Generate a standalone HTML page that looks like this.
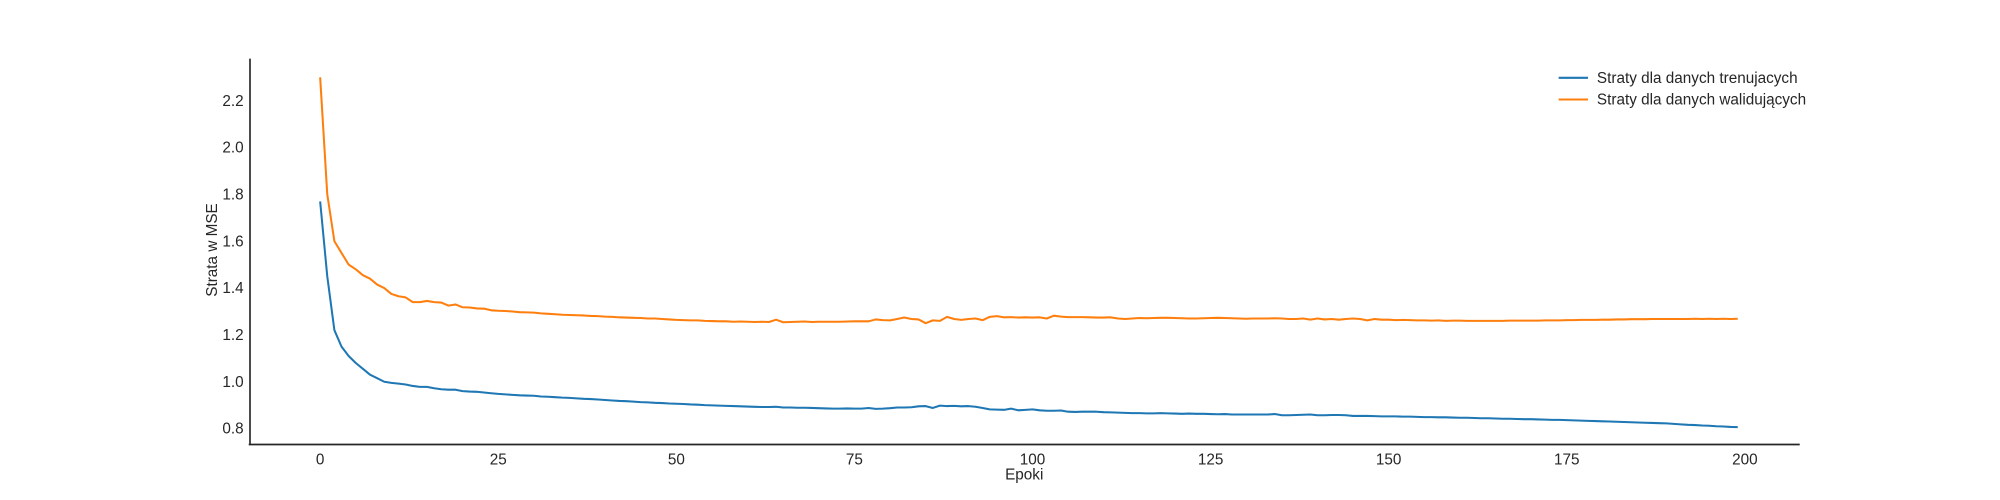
<!DOCTYPE html>
<html><head><meta charset="utf-8"><style>
body{margin:0;background:#fff;}
svg{display:block;font-family:"Liberation Sans",sans-serif;}
</style></head><body>
<svg id="chart" width="2000" height="500">
<g transform="scale(1.2755)">
<g id="axes"></g><g id="lines"></g>
<g>
<line x1="1222" y1="61" x2="1245" y2="61" stroke="#1f77b4" stroke-width="1.6"/>
<text x="1252" y="65" font-size="12" fill="#262626">Straty dla danych trenujacych</text>
<line x1="1222" y1="78" x2="1245" y2="78" stroke="#ff7f0e" stroke-width="1.6"/>
<text x="1252" y="82" font-size="12" fill="#262626">Straty dla danych walidujących</text>
</g>
<text x="803" y="376" font-size="12" fill="#262626" text-anchor="middle">Epoki</text>
<text transform="translate(170,196) rotate(-90)" font-size="12" fill="#262626" text-anchor="middle">Strata w MSE</text>
</g>
</svg>
<script>
const xTicks=[0,25,50,75,100,125,150,175,200];
const yTicks=[0.8,1.0,1.2,1.4,1.6,1.8,2.0,2.2];
const valLoss=[2.30,1.80,1.60,1.55,1.50,1.48,1.455,1.44,1.415,1.40,
1.375,1.365,1.36,1.34,1.34,1.345,1.34,1.338,1.325,1.33,
1.318,1.317,1.313,1.312,1.305,1.303,1.302,1.300,1.297,1.296,
1.295,1.292,1.290,1.288,1.286,1.285,1.284,1.283,1.281,1.280,
1.278,1.277,1.275,1.274,1.273,1.272,1.270,1.270,1.268,1.266,
1.264,1.263,1.262,1.262,1.260,1.259,1.258,1.258,1.256,1.257,
1.256,1.255,1.256,1.255,1.265,1.254,1.255,1.256,1.257,1.255,
1.256,1.256,1.256,1.256,1.257,1.258,1.258,1.258,1.266,1.263,
1.262,1.268,1.274,1.268,1.266,1.250,1.262,1.260,1.277,1.268,
1.264,1.268,1.270,1.263,1.277,1.280,1.275,1.276,1.274,1.275,
1.274,1.275,1.270,1.282,1.278,1.276,1.276,1.276,1.275,1.274,
1.274,1.275,1.270,1.268,1.270,1.272,1.271,1.272,1.273,1.273,
1.272,1.271,1.270,1.270,1.271,1.272,1.273,1.272,1.271,1.270,
1.269,1.270,1.270,1.270,1.271,1.270,1.268,1.268,1.270,1.265,
1.270,1.266,1.268,1.265,1.268,1.270,1.268,1.262,1.268,1.265,
1.265,1.263,1.264,1.263,1.262,1.262,1.261,1.262,1.260,1.261,
1.261,1.260,1.260,1.260,1.260,1.260,1.260,1.261,1.261,1.261,
1.261,1.261,1.262,1.262,1.262,1.263,1.263,1.264,1.264,1.264,
1.265,1.265,1.266,1.266,1.267,1.267,1.267,1.268,1.268,1.268,
1.268,1.268,1.268,1.269,1.268,1.269,1.268,1.269,1.268,1.269];
const trainLoss=[1.77,1.45,1.22,1.15,1.11,1.08,1.055,1.03,1.015,1.000,
0.995,0.992,0.988,0.982,0.978,0.978,0.972,0.968,0.966,0.966,
0.960,0.958,0.957,0.954,0.951,0.948,0.946,0.944,0.942,0.941,
0.940,0.937,0.936,0.934,0.932,0.931,0.929,0.927,0.926,0.924,
0.922,0.920,0.918,0.917,0.915,0.913,0.912,0.910,0.909,0.907,
0.906,0.905,0.903,0.902,0.900,0.899,0.898,0.897,0.896,0.895,
0.894,0.893,0.892,0.892,0.893,0.890,0.890,0.889,0.889,0.888,
0.887,0.886,0.885,0.885,0.886,0.885,0.885,0.888,0.884,0.885,
0.887,0.890,0.890,0.891,0.895,0.896,0.888,0.898,0.896,0.897,
0.895,0.896,0.893,0.888,0.882,0.881,0.880,0.885,0.878,0.880,
0.882,0.878,0.876,0.876,0.877,0.872,0.871,0.872,0.872,0.872,
0.870,0.869,0.868,0.867,0.866,0.866,0.865,0.865,0.866,0.865,
0.864,0.863,0.864,0.863,0.863,0.862,0.861,0.862,0.860,0.860,
0.860,0.860,0.860,0.860,0.862,0.857,0.857,0.858,0.859,0.860,
0.857,0.857,0.858,0.858,0.857,0.854,0.854,0.854,0.853,0.852,
0.852,0.852,0.851,0.851,0.850,0.849,0.849,0.848,0.848,0.847,
0.846,0.846,0.845,0.844,0.844,0.843,0.842,0.842,0.841,0.840,
0.840,0.839,0.838,0.837,0.837,0.836,0.835,0.834,0.833,0.832,
0.831,0.830,0.829,0.828,0.827,0.826,0.825,0.824,0.823,0.822,
0.820,0.818,0.816,0.815,0.813,0.812,0.810,0.809,0.807,0.806];
const NS='http://www.w3.org/2000/svg';
function xs(e){return 251+e*(1368-251)/200;}
function ys(v){return 336-(v-0.8)*183.6;}
const axes=document.getElementById('axes');
function mk(t,a,p){const el=document.createElementNS(NS,t);for(const k in a)el.setAttribute(k,a[k]);p.appendChild(el);return el;}
const ls=mk('line',{x1:196,y1:46,x2:196,y2:349,stroke:'#262626','stroke-width':1.3},axes);


const bs=mk('line',{x1:195,y1:348.5,x2:1411,y2:348.5,stroke:'#262626','stroke-width':1.3},axes);


xTicks.forEach(t=>{const el=mk('text',{x:xs(t),y:364,'font-size':12,fill:'#262626','text-anchor':'middle'},axes);el.textContent=t;

});
yTicks.forEach(t=>{const el=mk('text',{x:191,y:ys(t)+4,'font-size':12,fill:'#262626','text-anchor':'end'},axes);el.textContent=t.toFixed(1);

});
const lines=document.getElementById('lines');
function path(arr){return arr.map((v,i)=>(i?'L':'M')+xs(i).toFixed(2)+','+ys(v).toFixed(2)).join('');}
const tp=mk('path',{d:path(trainLoss),fill:'none',stroke:'#1f77b4','stroke-width':1.6,'stroke-linejoin':'round'},lines);


const vp=mk('path',{d:path(valLoss),fill:'none',stroke:'#ff7f0e','stroke-width':1.6,'stroke-linejoin':'round'},lines);


</script>
</body></html>
